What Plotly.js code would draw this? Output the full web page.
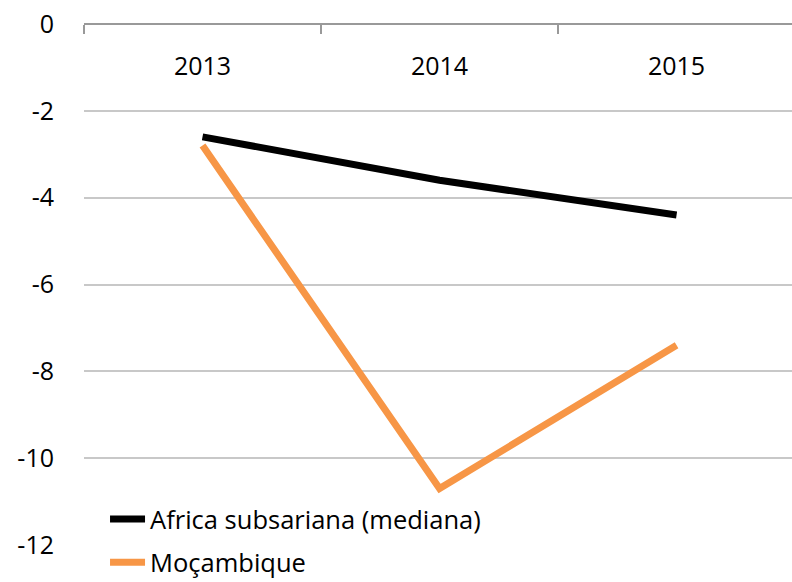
<!DOCTYPE html>
<html>
<head>
<meta charset="utf-8">
<script src="https://cdn.plot.ly/plotly-3.0.1.min.js"></script>
<style>html,body{margin:0;padding:0;background:#fff;}#chart{width:792px;height:582px;}</style>
</head>
<body>
<div id="chart"></div>
<script>
const years = ["2013", "2014", "2015"];
const africaName = "Africa subsariana (mediana)";
const africaValues = [-2.6, -3.6, -4.4];
const mozName = "Moçambique";
const mozValues = [-2.8, -10.7, -7.4];
const yTickValues = [0, -2, -4, -6, -8, -10, -12];

const FONT = "Open Sans, sans-serif";

const traces = [
  {x: years, y: africaValues, name: africaName, type: "scatter", mode: "lines",
   line: {color: "#000000", width: 7}, legendgroup: "a"},
  {x: years, y: mozValues, name: mozName, type: "scatter", mode: "lines",
   line: {color: "#F79646", width: 7}, legendgroup: "b"}
];

const layout = {
  width: 792, height: 582,
  margin: {l: 84, r: 0, t: 24, b: 37, autoexpand: false},
  paper_bgcolor: "#ffffff", plot_bgcolor: "#ffffff",
  font: {family: FONT, size: 25, color: "#000000"},
  showlegend: true,
  legend: {x: 0.0297, xanchor: "left", y: 0.094, yanchor: "top", itemwidth: 35,
           bgcolor: "rgba(0,0,0,0)", traceorder: "grouped", tracegroupgap: 7,
           font: {family: FONT, size: 25.5, color: "#000000"}},
  xaxis: {type: "category", range: [-0.5, 2.487], anchor: "free", position: 1, side: "bottom",
          showline: true, linecolor: "#999999", linewidth: 2,
          ticks: "outside", tickson: "boundaries", ticklen: 9, tickwidth: 2, tickcolor: "#999999",
          ticklabelstandoff: 20, showgrid: false, zeroline: false,
          tickfont: {family: FONT, size: 25, color: "#000000"}},
  yaxis: {range: [-12, 0], tickvals: yTickValues, ticktext: yTickValues.map(String),
          showline: false, zeroline: false, showgrid: true, gridcolor: "#c8c8c8", gridwidth: 2,
          ticks: "", ticklabelstandoff: 29,
          tickfont: {family: FONT, size: 25, color: "#000000"}}
};

Plotly.newPlot("chart", traces, layout, {displayModeBar: false, staticPlot: true});
</script>
</body>
</html>
